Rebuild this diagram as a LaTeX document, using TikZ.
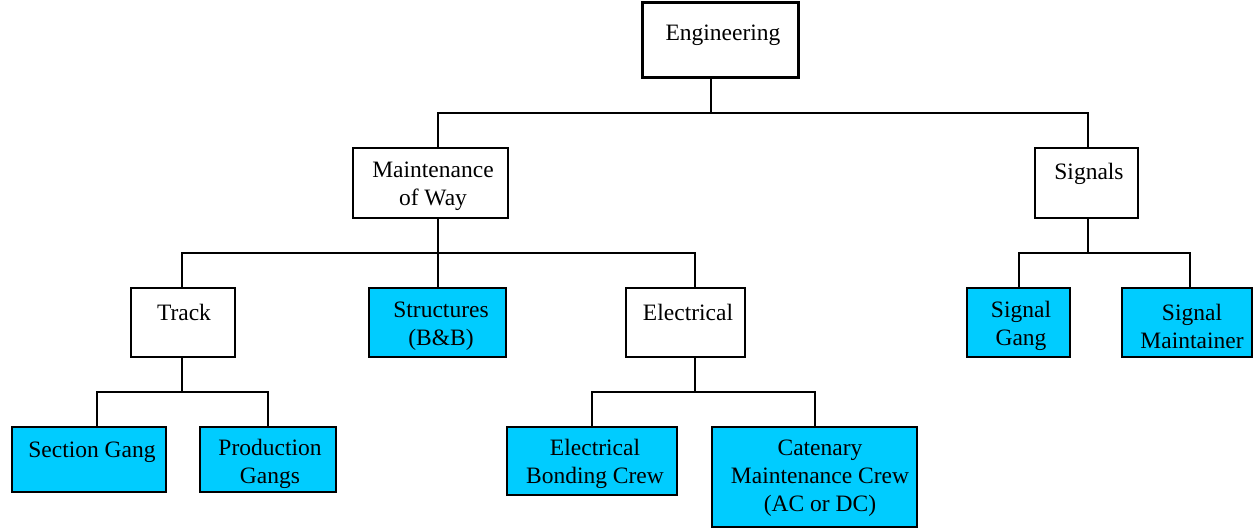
\documentclass[tikz,border=0pt]{standalone}
\usepackage{fontspec}
\setmainfont{Liberation Serif}
\newfontfamily\tnr{Liberation Serif}
\definecolor{boxcyan}{RGB}{0,204,255}
\begin{document}
\begin{tikzpicture}[x=1pt,y=-1pt,
  box/.style={draw=black,line width=1.3pt,inner sep=0pt,outer sep=0pt,fill=white},
  cbox/.style={box,fill=boxcyan},
  ebox/.style={box,line width=3pt},
  txt/.style={font=\tnr\fontsize{23.5}{28}\selectfont,align=center,inner sep=0pt},
  conn/.style={draw=black,line width=1.1pt}]
\useasboundingbox (0,0) rectangle (1254,529);
% boxes
\node[ebox,minimum width=156pt,minimum height=75pt] (eng) at (720,40.5) {};
\node[box,minimum width=155pt,minimum height=70pt] (mow) at (430.5,183) {};
\node[box,minimum width=103pt,minimum height=70pt] (sig) at (1086.5,183) {};
\node[box,minimum width=104pt,minimum height=69pt] (track) at (183,322.5) {};
\node[cbox,minimum width=137pt,minimum height=69pt] (struct) at (437.5,322.5) {};
\node[box,minimum width=119pt,minimum height=69pt] (elec) at (685.5,322.5) {};
\node[cbox,minimum width=103pt,minimum height=69pt] (sgang) at (1018.5,322.5) {};
\node[cbox,minimum width=130pt,minimum height=69pt] (smaint) at (1187,322.5) {};
\node[cbox,minimum width=154pt,minimum height=65pt] (section) at (89,459.5) {};
\node[cbox,minimum width=136pt,minimum height=65pt] (prod) at (268,459.5) {};
\node[cbox,minimum width=170pt,minimum height=68pt] (bond) at (592,461) {};
\node[cbox,minimum width=205pt,minimum height=100pt] (cat) at (814.5,477) {};
% texts
\node[txt] (tEng) at (723,35) {Engineering};
\node[txt] (tMow) at (433,186) {Maintenance\\of Way};
\node[txt] (tSig) at (1089,174) {Signals};
\node[txt] (tTrack) at (184,312) {Track};
\node[txt] (tStruct) at (441,326) {Structures\\(B\&B)};
\node[txt] (tElec) at (688,312) {Electrical};
\node[txt] (tSgang) at (1021,326) {Signal\\Gang};
\node[txt] (tSmaint) at (1192,326) {Signal\\Maintainer};
\node[txt] (tSection) at (92,452) {Section Gang};
\node[txt] (tProd) at (270,464) {Production\\Gangs};
\node[txt] (tBond) at (595,464) {Electrical\\Bonding Crew};
\node[txt] (tCat) at (820,478) {Catenary\\Maintenance Crew\\(AC or DC)};
% junction coordinates
\coordinate (j0) at (711,113);
\coordinate (mowTop) at (438,148);
\coordinate (sigTop) at (1088,148);
\coordinate (j1) at (438,253);
\coordinate (trackTop) at (182,288);
\coordinate (structTop) at (438,288);
\coordinate (elecTop) at (695,288);
\coordinate (j2) at (1088,253);
\coordinate (sgTop) at (1019,288);
\coordinate (smTop) at (1190,288);
\coordinate (j3) at (182,392);
\coordinate (secTop) at (97,427);
\coordinate (prodTop) at (268,427);
\coordinate (j4) at (695,392);
\coordinate (bondTop) at (592,427);
\coordinate (catTop) at (815,427);
% connectors
\draw[conn] (eng.south -| j0) -- (j0);
\draw[conn] (mowTop) |- (j0) -| (sigTop);
\draw[conn] (mow.south -| j1) -- (j1);
\draw[conn] (trackTop) |- (j1) -| (elecTop);
\draw[conn] (j1) -- (structTop);
\draw[conn] (sig.south -| j2) -- (j2);
\draw[conn] (sgTop) |- (j2) -| (smTop);
\draw[conn] (track.south -| j3) -- (j3);
\draw[conn] (secTop) |- (j3) -| (prodTop);
\draw[conn] (elec.south -| j4) -- (j4);
\draw[conn] (bondTop) |- (j4) -| (catTop);
\end{tikzpicture}
\end{document}
